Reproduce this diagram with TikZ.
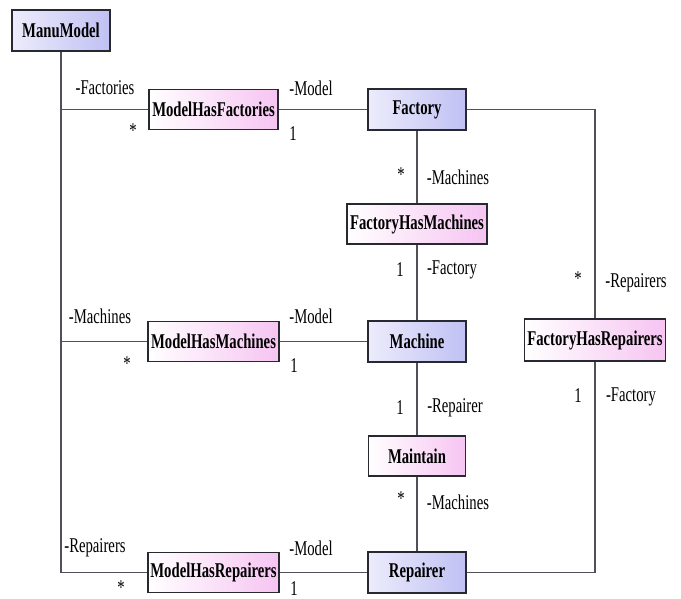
\documentclass[tikz,border=0pt]{standalone}
\usepackage{fontspec}
\setmainfont{Liberation Serif}[FakeStretch=0.7]
\begin{document}
\begin{tikzpicture}[x=1pt,y=-1pt]
\definecolor{clsL}{RGB}{236,236,252}
\definecolor{clsR}{RGB}{192,192,244}
\definecolor{asoL}{RGB}{255,255,255}
\definecolor{asoR}{RGB}{246,196,242}
\definecolor{edge}{RGB}{40,40,48}
\definecolor{wire}{RGB}{80,80,86}
\tikzset{
  box/.style={draw=edge, line width=1.6pt, inner sep=0pt, minimum height=40pt,
    font=\fontsize{21}{22}\selectfont\bfseries},
  cls/.style={box, left color=clsL, right color=clsR},
  aso/.style={box, left color=asoL, right color=asoR},
  link/.style={draw=wire, line width=1.1pt},
  lab/.style={inner sep=0pt, font=\fontsize{21}{22}\selectfont}
}
\useasboundingbox (0,0) rectangle (681,599);

% classes and association classes
\node[cls, minimum width=98pt, minimum height=41pt] (mm) at (61,30.5) {ManuModel};
\node[aso, minimum width=129pt] (mhf) at (213.5,109.5) {ModelHasFactories};
\node[cls, minimum width=98pt, minimum height=41pt] (fac) at (417,109.5) {Factory};
\node[aso, minimum width=140pt] (fhm) at (417,224) {FactoryHasMachines};
\node[aso, minimum width=131pt] (mhm) at (213.5,341.5) {ModelHasMachines};
\node[cls, minimum width=98pt, minimum height=41pt] (mac) at (417,341.5) {Machine};
\node[aso, minimum width=141pt, minimum height=42pt] (fhr) at (595,340) {FactoryHasRepairers};
\node[aso, minimum width=97pt] (mnt) at (417,456) {Maintain};
\node[aso, minimum width=131pt] (mhr) at (213.5,572.5) {ModelHasRepairers};
\node[cls, minimum width=98pt, minimum height=41pt] (rep) at (417,572.5) {Repairer};

% connectors
\draw[link] (mm.south) -- (mm.south |- mhr.west) -- (mhr.west);
\draw[link] (mhf.west) -- (mm.south |- mhf.west);
\draw[link] (mhm.west) -- (mm.south |- mhm.west);
\draw[link] (mhf.east) -- (fac.west);
\draw[link] (mhm.east) -- (mac.west);
\draw[link] (mhr.east) -- (rep.west);
\draw[link] (fac.south) -- (fhm.north);
\draw[link] (fhm.south) -- (mac.north);
\draw[link] (mac.south) -- (mnt.north);
\draw[link] (mnt.south) -- (rep.north);
\draw[link] (fac.east) -| (fhr.north);
\draw[link] (fhr.south) |- (rep.east);

% role names and multiplicities
\node[lab] (l1) at (105,88) {-Factories};
\node[lab] (l2) at (133,131) {*};
\node[lab] (l3) at (311,88) {-Model};
\node[lab] (l4) at (293,134) {1};
\node[lab] (l5) at (100,316) {-Machines};
\node[lab] (l6) at (127,364) {*};
\node[lab] (l7) at (311,316) {-Model};
\node[lab] (l8) at (294,366) {1};
\node[lab] (l9) at (95,548) {-Repairers};
\node[lab] (l10) at (121,588) {*};
\node[lab] (l11) at (311,548) {-Model};
\node[lab] (l12) at (294,589) {1};
\node[lab] (l13) at (401,175) {*};
\node[lab] (l14) at (458,177) {-Machines};
\node[lab] (l15) at (400,270) {1};
\node[lab] (l16) at (452,270) {-Factory};
\node[lab] (l17) at (400,408) {1};
\node[lab] (l18) at (455,408) {-Repairer};
\node[lab] (l19) at (401,499) {*};
\node[lab] (l20) at (458,502) {-Machines};
\node[lab] (l21) at (578,279) {*};
\node[lab] (l22) at (636,283) {-Repairers};
\node[lab] (l23) at (578,396) {1};
\node[lab] (l24) at (631,397) {-Factory};
\end{tikzpicture}
\end{document}
